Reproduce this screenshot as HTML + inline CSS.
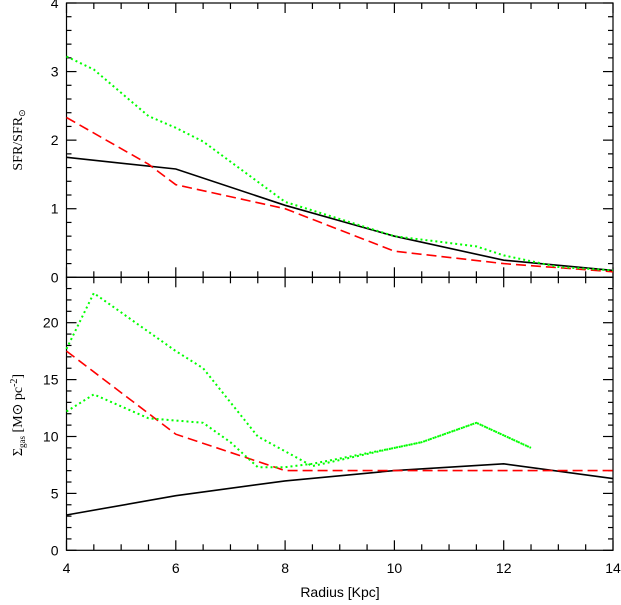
<!DOCTYPE html>
<html><head><meta charset="utf-8"><style>
body{margin:0;background:#fff;}
svg text{font-family:"Liberation Sans",sans-serif;font-size:14px;fill:#000;}
</style></head><body>
<svg id="chart" width="621" height="600" xmlns="http://www.w3.org/2000/svg"></svg>
<script>
const radius = [4,6,8,10,12,14];
const sfrBlack = [1.75,1.58,1.05,0.6,0.25,0.1];
const sfrRedX = [4,5.5,6,8,10,12,14];
const sfrRed = [2.33,1.65,1.35,1.0,0.38,0.2,0.08];
const sfrGreenX = [4,4.5,5.5,6,6.5,8,10,10.5,11.5,12,13,14];
const sfrGreen = [3.22,3.03,2.35,2.18,1.98,1.1,0.6,0.55,0.45,0.32,0.15,0.1];
const gasBlack = [3.1,4.8,6.1,7.0,7.6,6.3];
const gasRedX = [4,6,8,14];
const gasRed = [17.5,10.2,7.0,7.0];
const gasGreen1X = [4,4.5,6,6.5,7.5,8.5,10,10.5,11.5,12.5];
const gasGreen1 = [17.7,22.6,17.5,16,10,7.4,9,9.5,11.2,9];
const gasGreen2X = [4,4.5,5.5,6.5,7,7.5,8,8.5,10,10.5,11.5,12.5];
const gasGreen2 = [12.2,13.7,11.6,11.2,9.5,7.3,7.3,7.6,9,9.5,11.2,9];
const topTicks = [0,1,2,3,4];
const botTicks = [0,5,10,15,20];
const xTicks = [4,6,8,10,12,14];

const NS="http://www.w3.org/2000/svg";
const svg=document.getElementById('chart');
const L=66.5,R=613;
const sx=x=>L+(x-4)*(R-L)/10;
const syT=v=>277.3-v*(277.3-3)/4;
const syB=v=>550.3-v*(550.3-322.7)/20;
function el(t,a,p){const e=document.createElementNS(NS,t);for(const k in a)e.setAttribute(k,a[k]);(p||svg).appendChild(e);return e;}
function line(x1,y1,x2,y2,name){const e=el('line',{x1,y1,x2,y2,stroke:'#000','stroke-width':1.2});

}
function series(xs,ys,sy,color,dash,name){
 const d=xs.map((x,i)=>(i?'L':'M')+sx(x).toFixed(1)+','+sy(ys[i]).toFixed(1)).join(' ');
 const e=el('path',{d,fill:'none',stroke:color,'stroke-width':dash==='dot'?2:1.6,'stroke-dasharray':dash==='dash'?'10,5':dash==='dot'?'2,3':'none'});
 
 
}
// frames
[[3,277.3],[277.3,550.3]].forEach(([t,b],pi)=>{
 const r=el('rect',{x:L,y:t,width:R-L,height:b-t,fill:'none',stroke:'#000','stroke-width':1.2});
 
 
 for(let x=4;x<=14.001;x+=0.5){const maj=Math.abs(x-Math.round(x/2)*2)<1e-6;const len=maj?10:6;
  line(sx(x),b,sx(x),b-len,'x-tick');line(sx(x),t,sx(x),t+len,'x-tick');}
});
// y ticks
for(let v=0;v<=4.001;v+=0.2){const maj=Math.abs(v-Math.round(v))<1e-6;const len=maj?10:5;
 line(L,syT(v),L+len,syT(v),'y-tick-top');line(R,syT(v),R-len,syT(v),'y-tick-top');}
for(let v=0;v<24;v+=1){const maj=v%5===0;const len=maj?10:5;
 line(L,syB(v),L+len,syB(v),'y-tick-bottom');line(R,syB(v),R-len,syB(v),'y-tick-bottom');}
topTicks.forEach(v=>{const t=el('text',{x:L-8,y:syT(v)+5,'text-anchor':'end'});t.textContent=v;
 
 });
botTicks.forEach(v=>{const t=el('text',{x:L-8,y:syB(v)+5,'text-anchor':'end'});t.textContent=v;
 
 });
xTicks.forEach(v=>{const t=el('text',{x:sx(v),y:573,'text-anchor':'middle'});t.textContent=v;
 
 });
series(radius,sfrBlack,syT,'#000','solid','sfr-black-line');
series(sfrRedX,sfrRed,syT,'#f00','dash','sfr-red-line');
series(sfrGreenX,sfrGreen,syT,'#0f0','dot','sfr-green-line');
series(radius,gasBlack,syB,'#000','solid','gas-black-line');
series(gasRedX,gasRed,syB,'#f00','dash','gas-red-line');
series(gasGreen1X,gasGreen1,syB,'#0f0','dot','gas-green-upper-line');
series(gasGreen2X,gasGreen2,syB,'#0f0','dot','gas-green-lower-line');
</script>
<svg style="position:absolute;left:0;top:0" width="621" height="600" xmlns="http://www.w3.org/2000/svg">
<text x="340" y="597" text-anchor="middle">Radius [Kpc]</text>
<text transform="translate(22,140) rotate(-90)" text-anchor="middle" style="font-family:'Liberation Serif',serif">SFR/SFR<tspan font-size="9" dy="3">⊙</tspan></text>
<text transform="translate(22,415) rotate(-90)" text-anchor="middle" style="font-family:'Liberation Serif',serif">Σ<tspan font-size="9" dy="3">gas</tspan><tspan dy="-3"> [M⊙ pc</tspan><tspan font-size="10" dy="-5">-2</tspan><tspan dy="5">]</tspan></text>
</svg>
</body></html>
